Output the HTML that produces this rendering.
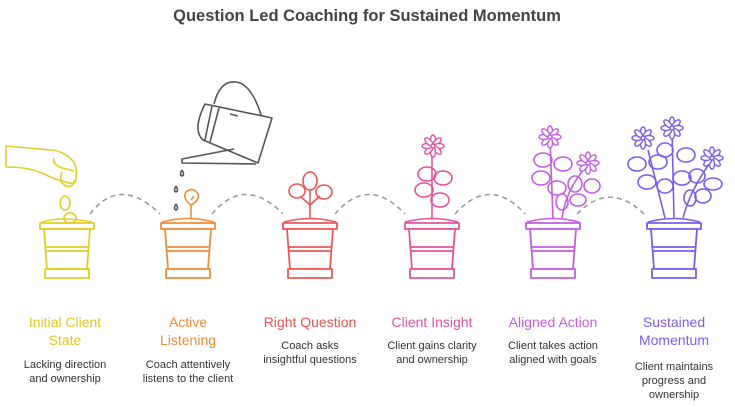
<!DOCTYPE html>
<html><head><meta charset="utf-8"><style>
html,body{margin:0;padding:0;background:#fff;width:735px;height:407px;overflow:hidden}
svg{display:block}
.t{font-family:"Liberation Sans",sans-serif}
</style></head><body>
<svg width="735" height="407" viewBox="0 0 735 407" xmlns="http://www.w3.org/2000/svg">
<defs>
<g id="pot" fill="#fff" stroke-width="1.8" stroke-linejoin="round">
<path d="M-27,0 L27,0 L27,6 L-27,6 Z"/>
<path d="M-23,6 L23,6 L20,46 L-20,46 Z"/>
<path d="M-22,24 L22,24 M-21.5,28 L21.5,28" fill="none"/>
<path d="M-22,46 L22,46 L22,55 L-22,55 Z"/>
</g>
<g id="fl" fill="#fff" stroke-width="1.4">
<ellipse cx="0" cy="-6" rx="2.5" ry="5"/>
<ellipse cx="0" cy="-6" rx="2.5" ry="5" transform="rotate(45)"/>
<ellipse cx="0" cy="-6" rx="2.5" ry="5" transform="rotate(90)"/>
<ellipse cx="0" cy="-6" rx="2.5" ry="5" transform="rotate(135)"/>
<ellipse cx="0" cy="-6" rx="2.5" ry="5" transform="rotate(180)"/>
<ellipse cx="0" cy="-6" rx="2.5" ry="5" transform="rotate(225)"/>
<ellipse cx="0" cy="-6" rx="2.5" ry="5" transform="rotate(270)"/>
<ellipse cx="0" cy="-6" rx="2.5" ry="5" transform="rotate(315)"/>
<circle r="2"/>
</g>
</defs>
<text class="t" x="367" y="21" text-anchor="middle" font-size="16.5" font-weight="bold" fill="#444">Question Led Coaching for Sustained Momentum</text>

<g fill="none" stroke="#999" stroke-width="1.6" stroke-dasharray="5,4">
<path d="M90,214 Q120,175 160,214"/>
<path d="M212,214 Q245,175 283,214"/>
<path d="M335,214 Q368,175 405,214"/>
<path d="M455,214 Q490,175 525,214"/>
<path d="M577,214 Q610,180 645,215"/>
</g>

<!-- pot 1 yellow -->
<g stroke="#e3cc24" fill="none" stroke-width="1.6" stroke-linejoin="round">
<path d="M6,146 L6,167 Q30,167 44,174 Q56,180 66,182 Q76,186 76,178 Q78,166 72,160 Q62,150 50,150 Q28,148 6,146 Z" fill="#fff"/>
<path d="M54,158 Q52,164 62,168 L74,171 M62,172 Q58,182 66,186 Q74,188 74,180"/>
<ellipse cx="65" cy="203" rx="5" ry="7" fill="#fff"/>
<ellipse cx="70" cy="218" rx="6" ry="5" fill="#fff"/>
<path d="M42,222 Q60,216 92,222"/>
<use href="#pot" x="67" y="223" stroke="#e3cc24"/>
</g>
<!-- watering can -->
<g stroke="#555" fill="none" stroke-width="1.6" stroke-linejoin="round">
<path d="M214,104 Q220,80 236,82 Q252,84 262,118"/>
<path d="M205,104 L272,118 L258,163 L203,140 Q192,130 205,104 Z" fill="#fff"/>
<path d="M212,106 L205,140 M219,108 L210,142 M230,114 L238,116"/>
<path d="M234,149 L182,159 L182,163 L256,164"/>
<path d="M182,170 q-3,5 0,6 q3,-1 0,-6 M176,186 q-3,5 0,6 q3,-1 0,-6 M176,204 q-3,5 0,6 q3,-1 0,-6"/>
</g>
<!-- pot 2 orange -->
<g stroke="#f08c3a" fill="none" stroke-width="1.6">
<path d="M191,218 L191,205 M191,205 Q182,198 186,192 Q193,186 198,194 Q200,200 191,205 M191,200 l3,-4"/>
<path d="M162,222 Q188,215 214,222"/>
<use href="#pot" x="188" y="223" stroke="#f08c3a"/>
</g>
<!-- pot 3 red -->
<g stroke="#ec5757" fill="none" stroke-width="1.6">
<path d="M310,218 L310,190 M310,205 L300,196 M310,205 L320,196"/>
<ellipse cx="310" cy="181" rx="7" ry="9"/>
<ellipse cx="297" cy="191" rx="8" ry="7"/>
<ellipse cx="324" cy="192" rx="8" ry="7"/>
<path d="M284,222 Q310,215 336,222"/>
<use href="#pot" x="310" y="223" stroke="#ec5757"/>
</g>
<!-- pot 4 pink -->
<g stroke="#e6539a" fill="none" stroke-width="1.6">
<path d="M432,218 L432,150"/>
<ellipse cx="427" cy="174" rx="9" ry="7"/><ellipse cx="443" cy="178" rx="9" ry="7"/>
<ellipse cx="424" cy="190" rx="9" ry="7"/><ellipse cx="440" cy="200" rx="9" ry="7"/>
<use href="#fl" x="433" y="146" stroke="#e6539a"/>
<path d="M405,222 Q432,215 458,222"/>
<use href="#pot" x="432" y="223" stroke="#e6539a"/>
</g>
<!-- pot 5 purple -->
<g stroke="#c45ce6" fill="none" stroke-width="1.6">
<path d="M553,218 L550,140 M562,218 Q566,190 585,168"/>
<ellipse cx="543" cy="160" rx="9" ry="7"/><ellipse cx="563" cy="164" rx="9" ry="7"/>
<ellipse cx="541" cy="178" rx="9" ry="7"/><ellipse cx="557" cy="188" rx="9" ry="7"/>
<ellipse cx="575" cy="184" rx="7" ry="8"/><ellipse cx="592" cy="186" rx="8" ry="7"/>
<ellipse cx="562" cy="202" rx="6" ry="8"/><ellipse cx="578" cy="200" rx="8" ry="6"/>
<use href="#fl" x="550" y="137" stroke="#c45ce6"/>
<use href="#fl" x="588" y="163" stroke="#c45ce6"/>
<path d="M527,222 Q553,215 579,222"/>
<use href="#pot" x="553" y="223" stroke="#c45ce6"/>
</g>
<!-- pot 6 violet -->
<g stroke="#7a5cf0" fill="none" stroke-width="1.6">
<path d="M665,218 L648,150 M674,218 L672,130 M683,218 Q690,190 712,160"/>
<ellipse cx="637" cy="164" rx="9" ry="7"/><ellipse cx="658" cy="162" rx="9" ry="7"/>
<ellipse cx="665" cy="150" rx="8" ry="7"/><ellipse cx="686" cy="155" rx="9" ry="7"/>
<ellipse cx="647" cy="182" rx="9" ry="7"/><ellipse cx="665" cy="186" rx="8" ry="7"/>
<ellipse cx="682" cy="178" rx="9" ry="7"/><ellipse cx="697" cy="176" rx="8" ry="7"/>
<ellipse cx="690" cy="198" rx="6" ry="8"/><ellipse cx="703" cy="196" rx="8" ry="7"/>
<ellipse cx="713" cy="184" rx="9" ry="6"/>
<use href="#fl" x="643" y="138" stroke="#7a5cf0"/>
<use href="#fl" x="672" y="128" stroke="#7a5cf0"/>
<use href="#fl" x="712" y="158" stroke="#7a5cf0"/>
<path d="M648,222 Q674,215 700,222"/>
<use href="#pot" x="674" y="223" stroke="#7a5cf0"/>
</g>

<g class="t" text-anchor="middle" font-size="14">
<text x="65" y="327" fill="#e0c81c">Initial Client</text>
<text x="65" y="345" fill="#e0c81c">State</text>
<text x="188" y="327" fill="#ef8a38">Active</text>
<text x="188" y="345" fill="#ef8a38">Listening</text>
<text x="310" y="327" fill="#ec5050">Right Question</text>
<text x="432" y="327" fill="#e6539a">Client Insight</text>
<text x="553" y="327" fill="#c25ce8">Aligned Action</text>
<text x="674" y="327" fill="#7a5cf0">Sustained</text>
<text x="674" y="345" fill="#7a5cf0">Momentum</text>
</g>
<g class="t" text-anchor="middle" font-size="11" fill="#333">
<text x="65" y="368">Lacking direction</text><text x="65" y="382">and ownership</text>
<text x="188" y="368">Coach attentively</text><text x="188" y="382">listens to the client</text>
<text x="310" y="349">Coach asks</text><text x="310" y="363">insightful questions</text>
<text x="432" y="349">Client gains clarity</text><text x="432" y="363">and ownership</text>
<text x="553" y="349">Client takes action</text><text x="553" y="363">aligned with goals</text>
<text x="674" y="370">Client maintains</text><text x="674" y="384">progress and</text><text x="674" y="398">ownership</text>
</g>
</svg>
</body></html>
